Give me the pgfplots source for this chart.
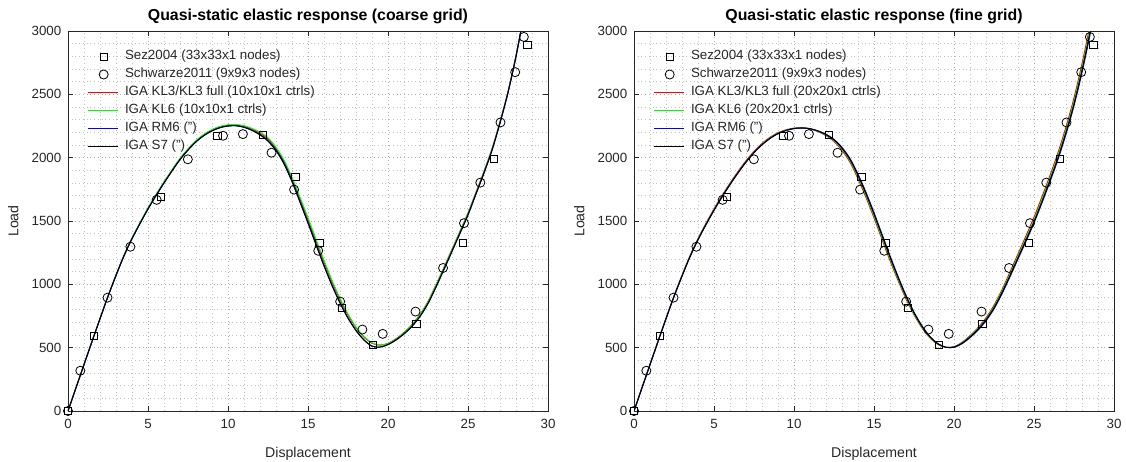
\documentclass[border=0pt]{standalone}
\usepackage{fontspec}
\setmainfont{Liberation Sans}
\usepackage{pgfplots}
\usepackage{pgfplotstable}
\pgfplotsset{compat=1.18}

% ---------- reference data (Sez2004 / Schwarze2011) ----------
\pgfplotstableread{
x y
0 0
1.64 591
5.81 1690
9.34 2173
12.16 2181
14.21 1850
15.71 1328
17.12 814
19.05 522
21.78 685
24.69 1328
26.62 1992
28.71 2890
}\tabsez
\pgfplotstableread{
x y
0 0
0.77 318
2.47 895
3.90 1297
5.54 1667
7.49 1987
9.69 2173
10.93 2186
12.72 2039
14.13 1748
15.64 1265
17.01 864
18.40 643
19.67 609
21.72 785
23.44 1129
24.75 1483
25.77 1803
27.03 2278
27.95 2675
28.49 2953
}\tabschw

% ---------- coarse grid curves ----------
\pgfplotstableread{
x y
0 0
0.5 183
1 366
1.5 548
2 728
2.5 905
3 1070
3.5 1225
4 1360
4.5 1480
5 1595
5.5 1700
6 1800
6.5 1895
7 1985
7.5 2060
8 2125
8.5 2175
9 2212
9.5 2237
10 2250
10.5 2252
11 2240
11.5 2215
12 2180
12.5 2130
13 2055
13.5 1950
14 1810
14.5 1648
15 1482
15.5 1312
16 1145
16.5 990
17 852
17.5 733
18 635
18.5 560
19 512
19.5 505
20 525
20.5 562
21 610
21.5 670
22 748
22.5 850
23 980
23.5 1120
24 1262
24.5 1405
25 1550
25.5 1715
26 1880
26.5 2060
27 2275
27.5 2515
28 2800
28.5 3130
28.7 3270
}\tabck
\pgfplotstableread{
x y
0 0
0.5 183
1 366
1.5 548
2 728
2.5 905
3 1070
3.5 1225
4 1360
4.5 1480
5 1595
5.5 1700
6 1800
6.5 1895
7 1985
7.5 2060
8 2125
8.5 2175
9 2212
9.5 2237
10 2250
10.5 2252
11 2241
11.5 2217
12 2183
12.5 2135
13 2062
13.5 1958
14 1818
14.5 1656
15 1490
15.5 1320
16 1152
16.5 996
17 857
17.5 736
18 637
18.5 561
19 512
19.5 505
20 524
20.5 560
21 608
21.5 668
22 746
22.5 848
23 978
23.5 1118
24 1260
24.5 1403
25 1548
25.5 1713
26 1878
26.5 2058
27 2273
27.5 2513
28 2798
28.5 3128
28.7 3268
}\tabcb
\pgfplotstableread{
x y
0 0
0.5 184
1 368
1.5 550
2 730
2.5 907
3 1072
3.5 1228
4 1364
4.5 1484
5 1600
5.5 1705
6 1806
6.5 1901
7 1991
7.5 2066
8 2131
8.5 2182
9 2219
9.5 2244
10 2256
10.5 2258
11 2248
11.5 2226
12 2194
12.5 2148
13 2072
13.5 1970
14 1832
14.5 1674
15 1510
15.5 1340
16 1176
16.5 1020
17 880
17.5 758
18 658
18.5 583
19 535
19.5 520
20 534
20.5 570
21 620
21.5 682
22 762
22.5 864
23 996
23.5 1134
24 1276
24.5 1419
25 1563
25.5 1727
26 1892
26.5 2070
27 2284
27.5 2522
28 2806
28.5 3136
28.7 3276
}\tabcred
\pgfplotstableread{
x y
0 0
0.5 184
1 368
1.5 551
2 731
2.5 908
3 1074
3.5 1230
4 1366
4.5 1487
5 1603
5.5 1708
6 1809
6.5 1904
7 1994
7.5 2069
8 2134
8.5 2185
9 2222
9.5 2247
10 2259
10.5 2261
11 2252
11.5 2231
12 2201
12.5 2157
13 2082
13.5 1982
14 1845
14.5 1688
15 1526
15.5 1356
16 1190
16.5 1032
17 890
17.5 766
18 664
18.5 588
19 539
19.5 521
20 533
20.5 568
21 618
21.5 680
22 760
22.5 862
23 994
23.5 1132
24 1274
24.5 1417
25 1561
25.5 1724
26 1889
26.5 2068
27 2282
27.5 2520
28 2804
28.5 3134
28.7 3274
}\tabcg

% ---------- fine grid curves ----------
\pgfplotstableread{
x y
0 0
0.5 183
1 366
1.5 548
2 728
2.5 903
3 1065
3.5 1218
4 1352
4.5 1472
5 1585
5.5 1690
6 1788
6.5 1880
7 1965
7.5 2040
8 2102
8.5 2152
9 2190
9.5 2215
10 2230
10.5 2234
11 2228
11.5 2210
12 2182
12.5 2140
13 2075
13.5 1985
14 1860
14.5 1715
15 1555
15.5 1385
16 1215
16.5 1055
17 905
17.5 775
18 668
18.5 585
19 530
19.5 503
20 505
20.5 535
21 585
21.5 645
22 720
22.5 815
23 935
23.5 1070
24 1210
24.5 1350
25 1495
25.5 1655
26 1822
26.5 2000
27 2200
27.5 2425
28 2690
28.5 2990
28.8 3200
}\tabfk
\pgfplotstableread{
x y
0 0
0.5 183
1 366
1.5 548
2 728
2.5 903
3 1065
3.5 1218
4 1352
4.5 1472
5 1585
5.5 1690
6 1788
6.5 1880
7 1965
7.5 2040
8 2102
8.5 2152
9 2190
9.5 2215
10 2230
10.5 2235
11 2229
11.5 2212
12 2185
12.5 2144
13 2081
13.5 1993
14 1870
14.5 1726
15 1566
15.5 1396
16 1226
16.5 1064
17 913
17.5 781
18 672
18.5 588
19 531
19.5 503
20 503
20.5 531
21 579
21.5 638
22 712
22.5 806
23 926
23.5 1060
24 1200
24.5 1340
25 1484
25.5 1644
26 1810
26.5 1987
27 2186
27.5 2410
28 2672
28.5 2970
28.8 3180
}\tabfb
\pgfplotstableread{
x y
0 0
0.5 184
1 367
1.5 550
2 730
2.5 905
3 1068
3.5 1221
4 1355
4.5 1476
5 1589
5.5 1694
6 1792
6.5 1884
7 1969
7.5 2044
8 2106
8.5 2156
9 2193
9.5 2217
10 2231
10.5 2235
11 2228
11.5 2208
12 2178
12.5 2135
13 2068
13.5 1976
14 1848
14.5 1702
15 1541
15.5 1371
16 1202
16.5 1044
17 896
17.5 767
18 662
18.5 580
19 527
19.5 502
20 506
20.5 538
21 590
21.5 651
22 727
22.5 824
23 945
23.5 1082
24 1223
24.5 1364
25 1510
25.5 1671
26 1838
26.5 2017
27 2218
27.5 2445
28 2712
28.5 3013
28.8 3220
}\tabfg
\pgfplotstableread{
x y
0 0
0.5 185
1 369
1.5 552
2 733
2.5 909
3 1072
3.5 1226
4 1361
4.5 1482
5 1596
5.5 1701
6 1799
6.5 1891
7 1976
7.5 2050
8 2112
8.5 2161
9 2197
9.5 2220
10 2233
10.5 2236
11 2228
11.5 2206
12 2174
12.5 2128
13 2058
13.5 1964
14 1833
14.5 1686
15 1525
15.5 1355
16 1187
16.5 1031
17 885
17.5 760
18 656
18.5 576
19 525
19.5 502
20 508
20.5 542
21 595
21.5 658
22 736
22.5 835
23 958
23.5 1098
24 1240
24.5 1383
25 1530
25.5 1692
26 1860
26.5 2040
27 2243
27.5 2472
28 2742
28.5 3045
28.8 3250
}\tabfred

\definecolor{axgray}{rgb}{0.15,0.15,0.15}
\pgfplotsset{
  legend image code/.code={\draw[mark repeat=2,mark phase=2,#1] plot coordinates {(0pt,0pt) (12pt,0pt) (23pt,0pt)};},
}
\pgfplotsset{
  myax/.style={
    scale only axis, width=360pt, height=285pt,
    xmin=0, xmax=30, ymin=0, ymax=3000,
    xtick={0,5,...,30}, ytick={0,500,...,3000},
    minor x tick num=4, minor y tick num=4,
    grid=both,
    major grid style={line width=0.5pt, dash pattern=on 0.6pt off 2.2pt, black!32},
    minor grid style={line width=0.5pt, dash pattern=on 0.6pt off 2.2pt, black!24},
    tick align=inside, major tick length=3.75pt, minor tick length=0pt,
    axis line style={axgray, line width=0.6pt},
    major tick style={axgray, line width=0.6pt},
    /pgf/number format/assume math mode=true,
    /pgf/number format/1000 sep={},
    tick label style={font=\fontsize{10}{12}\selectfont, text=axgray},
    xticklabel style={yshift=-2.5pt},
    yticklabel style={xshift=-1.5pt},
    xlabel={Displacement}, ylabel={Load},
    label style={font=\fontsize{10.6}{12}\selectfont, text=axgray},
    xlabel style={at={(axis description cs:0.5,0)}, anchor=base, yshift=-34.5pt},
    ylabel style={at={(axis description cs:-0.1139,0.5)}, anchor=center},
    title style={at={(axis description cs:0.5,1)}, anchor=base, yshift=1.5pt, font=\bfseries\fontsize{11.9}{13}\selectfont},
    legend cell align=left,
    legend image post style={line width=1pt},
    legend style={at={(axis description cs:0.0396,0.950439)}, anchor=north west,
      draw=none, fill=none, inner sep=0pt, outer sep=0pt,
      font=\fontsize{10}{12}\selectfont,
      nodes={inner sep=0pt, text height=7.5pt, text depth=2.5pt, text=axgray},
      row sep=3.5pt, column sep=4.5pt},
    every axis plot/.append style={line width=0.75pt},
  },
  sqm/.style={only marks, mark=square, mark size=2.7pt, mark options={line width=0.6pt, black}, black},
  cim/.style={only marks, mark=o, mark size=3.4pt, mark options={line width=0.6pt, black}, black},
  cl/.style={smooth, no marks, draw=#1, color=#1, line width=0.75pt},
}

\begin{document}
\begin{tikzpicture}
\path[use as bounding box] (-51pt,-37.5pt) rectangle (793.5pt,308.25pt);

\begin{axis}[myax, at={(0pt,0pt)}, anchor=south west,
  title={Quasi-static elastic response (coarse grid)}]
\addplot[sqm] table[x=x,y=y] {\tabsez};
\addlegendentry{Sez2004 (33x33x1 nodes)}
\addplot[cim] table[x=x,y=y] {\tabschw};
\addlegendentry{Schwarze2011 (9x9x3 nodes)}
\addplot[cl=red] table[x=x,y=y] {\tabcred};
\addlegendentry{IGA KL3/KL3 full (10x10x1 ctrls)}
\addplot[cl=green] table[x=x,y=y] {\tabcg};
\addlegendentry{IGA KL6 (10x10x1 ctrls)}
\addplot[cl=blue] table[x=x,y=y] {\tabcb};
\addlegendentry{IGA RM6 (")}
\addplot[cl=black] table[x=x,y=y] {\tabck};
\addlegendentry{IGA S7 (")}
\end{axis}

\begin{axis}[myax, at={(424.5pt,0pt)}, anchor=south west,
  title={Quasi-static elastic response (fine grid)}]
\addplot[sqm] table[x=x,y=y] {\tabsez};
\addlegendentry{Sez2004 (33x33x1 nodes)}
\addplot[cim] table[x=x,y=y] {\tabschw};
\addlegendentry{Schwarze2011 (9x9x3 nodes)}
\addplot[cl=red] table[x=x,y=y] {\tabfred};
\addlegendentry{IGA KL3/KL3 full (20x20x1 ctrls)}
\addplot[cl=green] table[x=x,y=y] {\tabfg};
\addlegendentry{IGA KL6 (20x20x1 ctrls)}
\addplot[cl=blue] table[x=x,y=y] {\tabfb};
\addlegendentry{IGA RM6 (")}
\addplot[cl=black] table[x=x,y=y] {\tabfk};
\addlegendentry{IGA S7 (")}
\end{axis}
\end{tikzpicture}
\end{document}
